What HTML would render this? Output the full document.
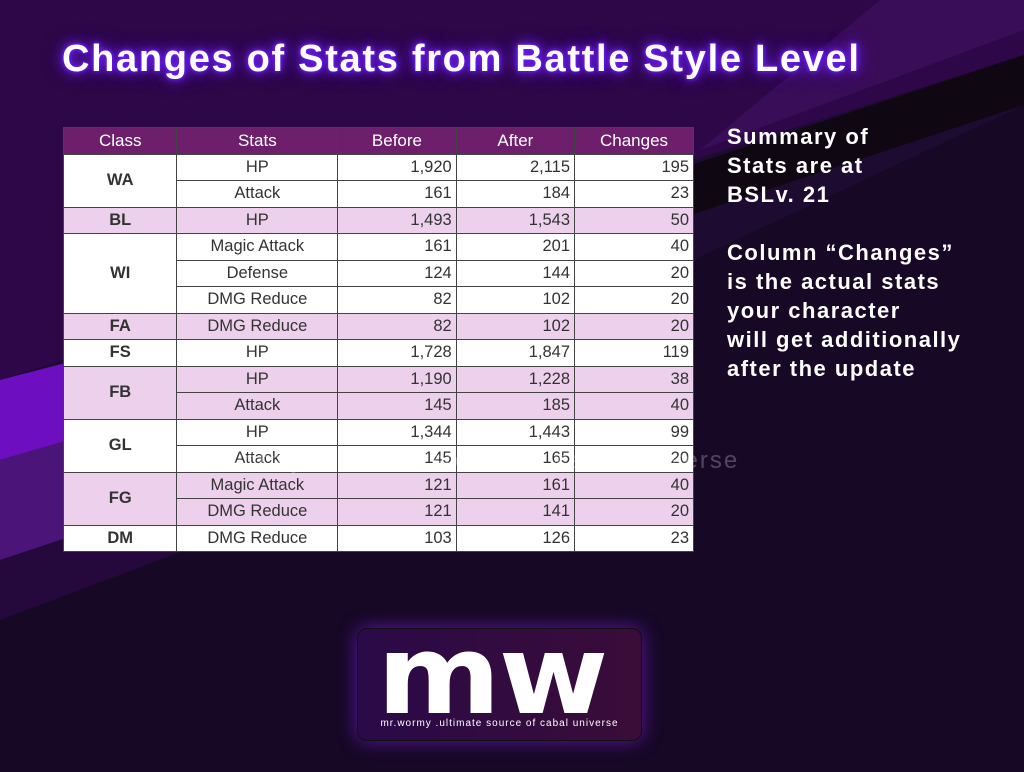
<!DOCTYPE html>
<html><head><meta charset="utf-8"><style>
body{margin:0;width:1024px;height:772px;overflow:hidden;background:#1a0828;font-family:"Liberation Sans",sans-serif;position:relative}
svg.bg{position:absolute;left:0;top:0}
.title{position:absolute;left:62px;top:38px;font-size:38px;font-weight:bold;color:#fff;letter-spacing:1.7px;text-shadow:0 0 3px #6a1cff,0 0 6px #6a1cff,0 0 12px #7b2cff,0 0 20px #5010c0;white-space:nowrap}
table{position:absolute;left:63px;top:127px;border-collapse:collapse;width:631px;font-size:16.5px;color:#333}
td,th{border:1px solid #444;height:25.5px;padding:0 4px;line-height:25.5px}
th{background:#6e1f6b;color:#fff;font-weight:normal;font-size:17px;height:25px}
td{background:#fff}
tr.p td{background:#ecd0ec}
.c{text-align:center;font-weight:bold;width:106px}
.s{text-align:center;width:154px}
.n{text-align:right;width:111px}
.side{position:absolute;left:727px;top:122px;color:#fff;font-weight:bold;font-size:22px;line-height:29px;letter-spacing:1.5px}
.logo{position:absolute;left:357px;top:628px;width:283px;height:111px;border-radius:10px;background:linear-gradient(90deg,#2a0a48,#3a0c38);border:1px solid #111;box-shadow:0 0 18px #5a18a0;overflow:hidden}
.logo .mw{position:absolute;left:19px;top:-9px;font-size:110px;line-height:110px;color:#fff;letter-spacing:-2px;font-family:"DejaVu Sans",sans-serif;font-weight:bold;transform:scaleX(1.08);transform-origin:0 0}
.logo .sub{position:absolute;left:0;width:283px;text-align:center;top:89px;font-size:10px;letter-spacing:1px;color:#fff}
.wm{position:absolute;left:185px;top:447px;font-size:24px;color:rgba(255,255,255,0.25);letter-spacing:2px;white-space:nowrap}
</style></head><body>
<svg class="bg" width="1024" height="772">
<rect width="1024" height="772" fill="#170826"/>
<polygon points="0,0 1024,0 1024,105 693,260 0,600" fill="#1e0b32"/>
<polygon points="0,0 1024,0 1024,55 0,380" fill="#2d0747"/>
<polygon points="880,0 1024,0 1024,30 700,150" fill="#3a0d58"/>
<polygon points="1024,55 1024,105 600,245 600,195" fill="#0f0712"/>
<polygon points="0,380 690,200 690,260 0,460" fill="#6d0fc0"/>
<polygon points="0,460 690,260 690,330 0,560" fill="#4a1478"/>
<polygon points="0,560 690,330 690,360 0,620" fill="#26093c"/>
</svg>
<div class="title">Changes of Stats from Battle Style Level</div>
<table>
<tr><th>Class</th><th>Stats</th><th>Before</th><th>After</th><th>Changes</th></tr>
<tr><td class="c" rowspan="2">WA</td><td class="s">HP</td><td class="n">1,920</td><td class="n">2,115</td><td class="n">195</td></tr>
<tr><td class="s">Attack</td><td class="n">161</td><td class="n">184</td><td class="n">23</td></tr>
<tr class="p"><td class="c">BL</td><td class="s">HP</td><td class="n">1,493</td><td class="n">1,543</td><td class="n">50</td></tr>
<tr><td class="c" rowspan="3">WI</td><td class="s">Magic Attack</td><td class="n">161</td><td class="n">201</td><td class="n">40</td></tr>
<tr><td class="s">Defense</td><td class="n">124</td><td class="n">144</td><td class="n">20</td></tr>
<tr><td class="s">DMG Reduce</td><td class="n">82</td><td class="n">102</td><td class="n">20</td></tr>
<tr class="p"><td class="c">FA</td><td class="s">DMG Reduce</td><td class="n">82</td><td class="n">102</td><td class="n">20</td></tr>
<tr><td class="c">FS</td><td class="s">HP</td><td class="n">1,728</td><td class="n">1,847</td><td class="n">119</td></tr>
<tr class="p"><td class="c" rowspan="2">FB</td><td class="s">HP</td><td class="n">1,190</td><td class="n">1,228</td><td class="n">38</td></tr>
<tr class="p"><td class="s">Attack</td><td class="n">145</td><td class="n">185</td><td class="n">40</td></tr>
<tr><td class="c" rowspan="2">GL</td><td class="s">HP</td><td class="n">1,344</td><td class="n">1,443</td><td class="n">99</td></tr>
<tr><td class="s">Attack</td><td class="n">145</td><td class="n">165</td><td class="n">20</td></tr>
<tr class="p"><td class="c" rowspan="2">FG</td><td class="s">Magic Attack</td><td class="n">121</td><td class="n">161</td><td class="n">40</td></tr>
<tr class="p"><td class="s">DMG Reduce</td><td class="n">121</td><td class="n">141</td><td class="n">20</td></tr>
<tr><td class="c">DM</td><td class="s">DMG Reduce</td><td class="n">103</td><td class="n">126</td><td class="n">23</td></tr>
</table>
<div class="wm">mr.wormy .ultimate source of cabal universe</div>
<div class="side">Summary of<br>Stats are at<br>BSLv. 21<br><br>Column “Changes”<br>is the actual stats<br>your character<br>will get additionally<br>after the update</div>
<div class="logo"><div class="mw">mw</div><div class="sub">mr.wormy .ultimate source of cabal universe</div></div>
</body></html>
